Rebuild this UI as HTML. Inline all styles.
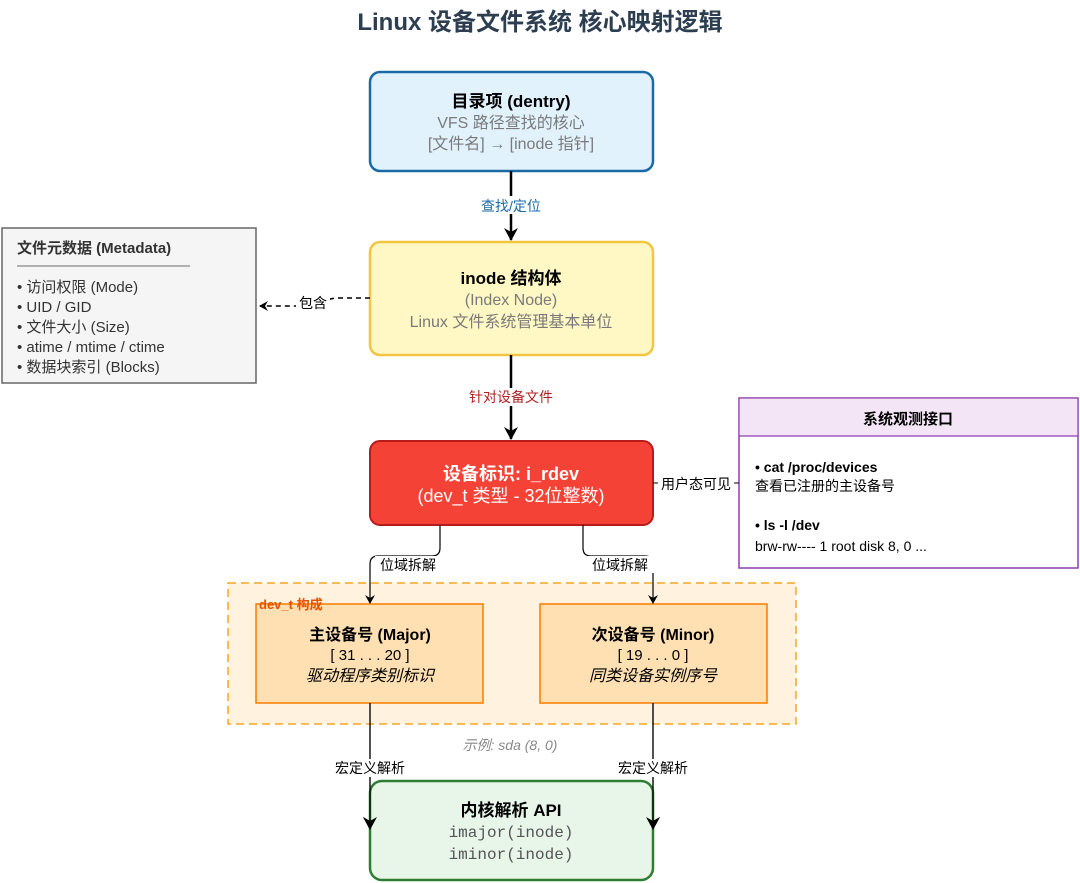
<!DOCTYPE html>
<html><head><meta charset="utf-8"><style>
html,body{margin:0;padding:0;background:#fff;}
svg{display:block;font-family:"Liberation Sans","Noto Sans CJK SC",sans-serif;}
.b{font-weight:bold;}
.g{fill:#7a7a7a;}
</style></head><body>
<svg width="1080" height="883" viewBox="0 0 1080 883" xmlns="http://www.w3.org/2000/svg">
<defs>
<marker id="a" markerWidth="10" markerHeight="10" refX="8" refY="5" orient="auto" markerUnits="userSpaceOnUse"><path d="M0,0 L9,5 L0,10 L3,5 Z" fill="#000"/></marker>
<marker id="a2" markerWidth="14" markerHeight="14" refX="12" refY="7" orient="auto" markerUnits="userSpaceOnUse"><path d="M0,0 L13,7 L0,14 L4,7 Z" fill="#000"/></marker>
</defs>
<text x="540" y="30" text-anchor="middle" font-size="24" class="b" fill="#2c3e50">Linux 设备文件系统 核心映射逻辑</text>

<!-- dentry -->
<rect x="370" y="72" width="283" height="99" rx="10" fill="#e1f2fd" stroke="#1a6aa6" stroke-width="2.5"/>
<text x="511" y="107" text-anchor="middle" font-size="17" class="b">目录项 (dentry)</text>
<text x="511" y="128" text-anchor="middle" font-size="16" class="g">VFS 路径查找的核心</text>
<text x="511" y="149" text-anchor="middle" font-size="16" class="g">[文件名] → [inode 指针]</text>

<line x1="511" y1="171" x2="511" y2="240" stroke="#000" stroke-width="2.5" marker-end="url(#a2)"/>
<rect x="476" y="196" width="70" height="18" fill="#fff"/>
<text x="511" y="211" text-anchor="middle" font-size="14" fill="#1a6aa6">查找/定位</text>

<!-- inode -->
<rect x="370" y="242" width="283" height="113" rx="10" fill="#fff8c4" stroke="#f4c542" stroke-width="2.5"/>
<text x="511" y="284" text-anchor="middle" font-size="17" class="b">inode 结构体</text>
<text x="511" y="305" text-anchor="middle" font-size="16" class="g">(Index Node)</text>
<text x="511" y="327" text-anchor="middle" font-size="16" class="g">Linux 文件系统管理基本单位</text>

<!-- metadata -->
<rect x="2" y="228" width="254" height="155" fill="#f5f5f5" stroke="#666" stroke-width="1.5"/>
<text x="17" y="253" font-size="15" class="b" fill="#333">文件元数据 (Metadata)</text>
<line x1="17" y1="266" x2="190" y2="266" stroke="#999" stroke-width="1.5"/>
<g font-size="15" fill="#333">
<text x="17" y="292">• 访问权限 (Mode)</text>
<text x="17" y="312">• UID / GID</text>
<text x="17" y="332">• 文件大小 (Size)</text>
<text x="17" y="352">• atime / mtime / ctime</text>
<text x="17" y="372">• 数据块索引 (Blocks)</text>
</g>
<path d="M370,298 L335,298 L297,306 L260,306" fill="none" stroke="#000" stroke-width="1.5" stroke-dasharray="5,4" marker-end="url(#a)"/>
<rect x="296" y="294" width="34" height="18" fill="#fff"/>
<text x="313" y="308" text-anchor="middle" font-size="14">包含</text>

<line x1="511" y1="355" x2="511" y2="439" stroke="#000" stroke-width="2.5" marker-end="url(#a2)"/>
<rect x="462" y="388" width="98" height="18" fill="#fff"/>
<text x="511" y="402" text-anchor="middle" font-size="14" fill="#b22222">针对设备文件</text>

<!-- i_rdev -->
<rect x="370" y="441" width="283" height="84" rx="10" fill="#f44336" stroke="#b71c1c" stroke-width="2"/>
<text x="511" y="480" text-anchor="middle" font-size="18" class="b" fill="#fff">设备标识: i_rdev</text>
<text x="511" y="502" text-anchor="middle" font-size="18" fill="#fff">(dev_t 类型 - 32位整数)</text>

<!-- system box -->
<rect x="739" y="398" width="339" height="170" fill="#fff" stroke="#8e3fb0" stroke-width="1.5"/>
<rect x="739.75" y="398.75" width="337.5" height="37" fill="#f3e5f5"/>
<line x1="739" y1="436" x2="1078" y2="436" stroke="#8e3fb0" stroke-width="1.2"/>
<text x="908" y="424" text-anchor="middle" font-size="15" class="b">系统观测接口</text>
<text x="755" y="472" font-size="14" class="b">• cat /proc/devices</text>
<text x="755" y="491" font-size="14">查看已注册的主设备号</text>
<text x="755" y="530" font-size="14" class="b">• ls -l /dev</text>
<text x="755" y="551" font-size="14">brw-rw---- 1 root disk 8, 0 ...</text>
<line x1="653" y1="483" x2="739" y2="483" stroke="#000" stroke-width="1"/>
<rect x="658" y="475" width="76" height="18" fill="#fff"/>
<text x="696" y="489" text-anchor="middle" font-size="14">用户态可见</text>

<!-- dev_t group -->
<rect x="228" y="583" width="568" height="141" fill="#fff3e0" stroke="#f5a623" stroke-width="1.5" stroke-dasharray="8,5"/>
<rect x="256" y="604" width="227" height="99" fill="#ffe0b2" stroke="#f57c00" stroke-width="1.5"/>
<rect x="540" y="604" width="227" height="99" fill="#ffe0b2" stroke="#f57c00" stroke-width="1.5"/>
<text x="259" y="609" font-size="13" class="b" fill="#e65100">dev_t 构成</text>
<text x="370" y="640" text-anchor="middle" font-size="16" class="b">主设备号 (Major)</text>
<text x="370" y="660" text-anchor="middle" font-size="15">[ 31 . . . 20 ]</text>
<text x="370" y="681" text-anchor="middle" font-size="16" font-style="italic">驱动程序类别标识</text>
<text x="653" y="640" text-anchor="middle" font-size="16" class="b">次设备号 (Minor)</text>
<text x="653" y="660" text-anchor="middle" font-size="15">[ 19 . . . 0 ]</text>
<text x="653" y="681" text-anchor="middle" font-size="16" font-style="italic">同类设备实例序号</text>

<path d="M440,525 L440,548 Q440,556 432,556 L378,556 Q370,556 370,564 L370,603" fill="none" stroke="#000" stroke-width="1.2" marker-end="url(#a)"/>
<rect x="372" y="555" width="76" height="18" fill="#fff3e0" opacity="0"/>
<rect x="375" y="556" width="66" height="17" fill="#fff"/>
<text x="408" y="570" text-anchor="middle" font-size="14">位域拆解</text>
<path d="M583,525 L583,548 Q583,556 591,556 L645,556 Q653,556 653,564 L653,603" fill="none" stroke="#000" stroke-width="1.2" marker-end="url(#a)"/>
<rect x="588" y="556" width="66" height="17" fill="#fff"/>
<text x="620" y="570" text-anchor="middle" font-size="14">位域拆解</text>

<text x="510" y="750" text-anchor="middle" font-size="14" font-style="italic" fill="#888">示例: sda (8, 0)</text>

<line x1="370" y1="703" x2="370" y2="829" stroke="#000" stroke-width="1.2" marker-end="url(#a2)"/>
<line x1="653" y1="703" x2="653" y2="829" stroke="#000" stroke-width="1.2" marker-end="url(#a2)"/>

<!-- API -->
<rect x="370" y="781" width="283" height="99" rx="12" fill="#e8f5e9" stroke="#2e7d32" stroke-width="2.5"/>
<line x1="370" y1="703" x2="370" y2="829" stroke="#000" stroke-width="1.2" marker-end="url(#a2)"/>
<line x1="653" y1="703" x2="653" y2="829" stroke="#000" stroke-width="1.2" marker-end="url(#a2)"/>
<rect x="330" y="759" width="80" height="18" fill="#fff"/>
<text x="370" y="773" text-anchor="middle" font-size="14">宏定义解析</text>
<rect x="613" y="759" width="80" height="18" fill="#fff"/>
<text x="653" y="773" text-anchor="middle" font-size="14">宏定义解析</text>
<text x="511" y="816" text-anchor="middle" font-size="17" class="b">内核解析 API</text>
<text x="511" y="837" text-anchor="middle" font-size="16" font-family="Liberation Mono, monospace" fill="#555">imajor(inode)</text>
<text x="511" y="859" text-anchor="middle" font-size="16" font-family="Liberation Mono, monospace" fill="#555">iminor(inode)</text>
</svg>
</body></html>
